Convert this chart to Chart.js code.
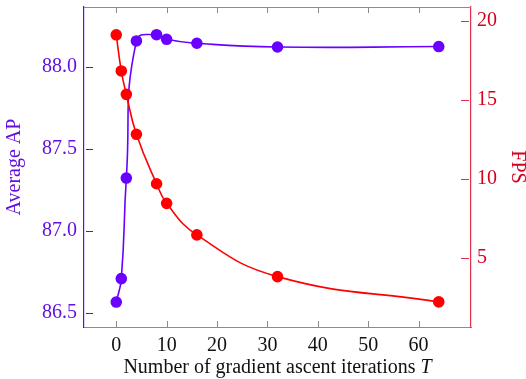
<!DOCTYPE html>
<html>
<head>
<meta charset="utf-8">
<script src="https://cdn.jsdelivr.net/npm/chart.js@4"></script>
<style>
  html, body { margin: 0; padding: 0; background: #fff; }
  #wrap { width: 526px; height: 379px; }
</style>
</head>
<body>
<div id="wrap"><canvas id="chart"></canvas></div>
<script>
const iterations = [0, 1, 2, 4, 8, 10, 16, 32, 64];
const averageAP = [86.567, 86.71, 87.323, 88.159, 88.197, 88.169, 88.145, 88.122, 88.125];
const fps = [19.13, 16.84, 15.36, 12.83, 9.70, 8.46, 6.46, 3.82, 2.22];

const xTicks = [0, 10, 20, 30, 40, 50, 60];
const apTicks = [86.5, 87.0, 87.5, 88.0];
const fpsTicks = [5, 10, 15, 20];

const violet = '#6a00ff';
const violetText = '#6410e0';
const red = '#ff0000';
const redText = '#d4001e';
const axisGray = '#8c8c8c';
const serif = 'Liberation Serif';
const fontSize = 20;

function pts(ys) {
  return iterations.map((x, i) => ({ x: x, y: ys[i] }));
}

function setTicks(arr) {
  return function (scale) {
    scale.ticks = arr.map(v => ({ value: v }));
  };
}

// keep the plot box where the reference has it, labels may overflow
function noPad(scale) {
  scale.paddingTop = 0;
  scale.paddingBottom = 0;
  scale.paddingLeft = 0;
  scale.paddingRight = 0;
}

// tick marks drawn on the inside, mirrored top axis, and the x title with italic T
const frame = {
  id: 'frame',
  beforeDatasetsDraw(chart) {
    const { ctx, chartArea: a, scales } = chart;
    ctx.save();
    ctx.lineWidth = 1;
    ctx.strokeStyle = axisGray;
    ctx.beginPath();
    ctx.moveTo(a.left, a.top + 0.5);
    ctx.lineTo(a.right, a.top + 0.5);
    ctx.stroke();
    xTicks.forEach(v => {
      const px = Math.round(scales.x.getPixelForValue(v)) + 0.5;
      ctx.beginPath();
      ctx.moveTo(px, a.top);
      ctx.lineTo(px, a.top + 6);
      ctx.moveTo(px, a.bottom);
      ctx.lineTo(px, a.bottom - 6);
      ctx.stroke();
    });
    ctx.strokeStyle = violet;
    apTicks.forEach(v => {
      const py = Math.round(scales.y.getPixelForValue(v)) + 0.5;
      ctx.beginPath();
      ctx.moveTo(a.left + 2, py);
      ctx.lineTo(a.left + 9, py);
      ctx.stroke();
    });
    ctx.strokeStyle = '#e0304c';
    fpsTicks.forEach(v => {
      const py = Math.round(scales.y1.getPixelForValue(v)) + 0.5;
      ctx.beginPath();
      ctx.moveTo(a.right - 2, py);
      ctx.lineTo(a.right - 10, py);
      ctx.stroke();
    });
    ctx.restore();
  },
  afterDraw(chart) {
    const { ctx, chartArea: a } = chart;
    const plain = 'Number of gradient ascent iterations ';
    const f = fontSize + 'px "' + serif + '"';
    ctx.save();
    ctx.fillStyle = '#111';
    ctx.textBaseline = 'middle';
    ctx.font = f;
    const w1 = ctx.measureText(plain).width;
    ctx.font = 'italic ' + f;
    const w2 = ctx.measureText('T').width;
    let x = (a.left + a.right) / 2 - (w1 + w2) / 2;
    ctx.font = f;
    ctx.fillText(plain, x, 368);
    ctx.font = 'italic ' + f;
    ctx.fillText('T', x + w1, 368);
    ctx.restore();
  }
};

new Chart(document.getElementById('chart'), {
  type: 'line',
  data: {
    datasets: [
      {
        label: 'Average AP',
        data: pts(averageAP),
        yAxisID: 'y',
        borderColor: violet,
        backgroundColor: violet,
        pointBackgroundColor: violet,
        pointBorderColor: violet,
        borderWidth: 1.6,
        pointRadius: 5,
        tension: 0.5,
        order: 2
      },
      {
        label: 'FPS',
        data: pts(fps),
        yAxisID: 'y1',
        borderColor: red,
        backgroundColor: red,
        pointBackgroundColor: red,
        pointBorderColor: red,
        borderWidth: 1.6,
        pointRadius: 5,
        tension: 0.45,
        order: 1
      }
    ]
  },
  options: {
    responsive: true,
    maintainAspectRatio: false,
    animation: false,
    layout: { padding: { top: 7, left: 0, right: 0, bottom: 0 } },
    plugins: {
      legend: { display: false },
      tooltip: { enabled: false }
    },
    scales: {
      x: {
        type: 'linear',
        position: 'bottom',
        min: -6.4,
        max: 70.4,
        afterBuildTicks: setTicks(xTicks),
        afterFit(scale) { scale.height = 52; noPad(scale); },
        grid: { display: false, drawTicks: false },
        border: { display: true, color: axisGray, width: 1 },
        ticks: {
          padding: 7,
          color: '#111',
          font: { family: serif, size: fontSize }
        }
      },
      y: {
        type: 'linear',
        position: 'left',
        min: 86.415,
        max: 88.366,
        afterBuildTicks: setTicks(apTicks),
        afterFit(scale) { scale.width = 84; noPad(scale); },
        grid: { display: false, drawTicks: false },
        border: { display: true, color: violet, width: 1.2 },
        ticks: {
          padding: 7,
          color: violetText,
          font: { family: serif, size: fontSize },
          callback: v => v.toFixed(1)
        },
        title: {
          display: true,
          text: 'Average AP',
          color: violetText,
          padding: { top: 3, bottom: 0 },
          font: { family: serif, size: fontSize, lineHeight: 1.2 }
        }
      },
      y1: {
        type: 'linear',
        position: 'right',
        min: 0.63,
        max: 20.89,
        afterBuildTicks: setTicks(fpsTicks),
        afterFit(scale) { scale.width = 55; noPad(scale); },
        grid: { display: false, drawTicks: false },
        border: { display: true, color: '#e0304c', width: 1.2 },
        ticks: {
          padding: 6,
          color: redText,
          font: { family: serif, size: fontSize }
        },
        title: {
          display: true,
          text: 'FPS',
          color: redText,
          padding: { top: 0, bottom: 0 },
          font: { family: serif, size: fontSize, lineHeight: 0.9 }
        }
      }
    }
  },
  plugins: [frame]
});
</script>
</body>
</html>
